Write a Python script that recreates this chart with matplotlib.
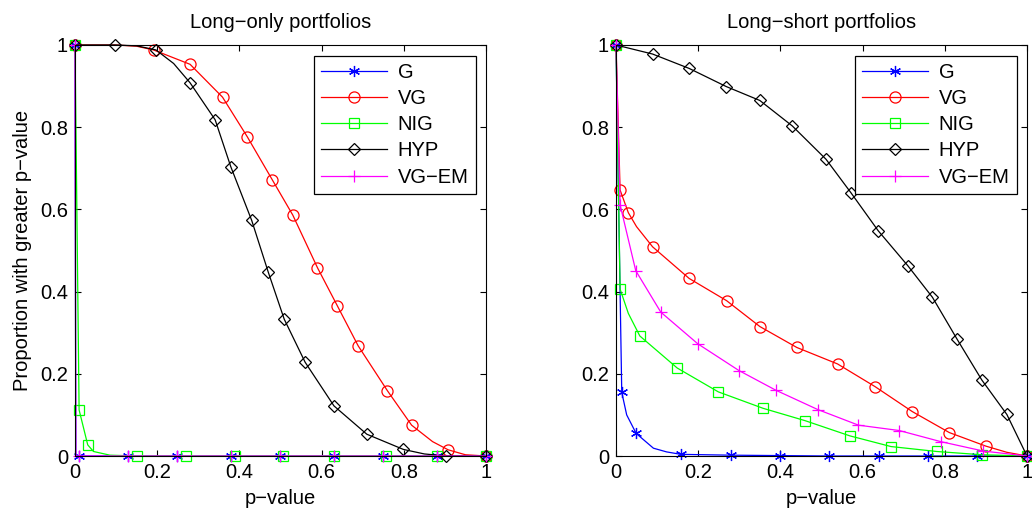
import matplotlib
matplotlib.use("Agg")
import matplotlib.pyplot as plt
from matplotlib.ticker import FixedLocator, FixedFormatter

plt.rcParams['font.family'] = ['Liberation Sans', 'DejaVu Sans']
FS = 14.5

series_names = ["G", "VG", "NIG", "HYP", "VG\u2212EM"]
colors = ["#0000ff", "#ff0000", "#00ff00", "#000000", "#ff00ff"]
markers = [(6, 2, 0), "o", "s", "D", "+"]
msizes = [8, 8, 6.5, 6.5, 9]

tick_vals = [0, 0.2, 0.4, 0.6, 0.8, 1]
tick_labels = ["0", "0.2", "0.4", "0.6", "0.8", "1"]

# ---- Long-only portfolios ----
lo_G_x = [0, 0.002, 0.01, 0.129, 0.248, 0.379, 0.499, 0.630, 0.750, 0.881, 1.0]
lo_G_y = [1, 0, 0, 0, 0, 0, 0, 0, 0, 0, 0]
lo_G_m = [0, 2, 3, 4, 5, 6, 7, 8, 9, 10]

lo_VG_x = [0, 0.1, 0.15, 0.191, 0.280, 0.359, 0.419, 0.480, 0.530, 0.590, 0.638,
           0.689, 0.760, 0.819, 0.87, 0.908, 0.95, 1.0]
lo_VG_y = [1, 1, 0.997, 0.988, 0.953, 0.873, 0.777, 0.672, 0.586, 0.458, 0.366,
           0.268, 0.159, 0.075, 0.035, 0.015, 0.003, 0]
lo_VG_m = [0, 3, 4, 5, 6, 7, 8, 9, 10, 11, 12, 13, 15, 17]

lo_NIG_x = [0, 0.01, 0.031, 0.045, 0.085, 0.15, 0.269, 0.389, 0.505, 0.630, 0.757, 0.880, 1.0]
lo_NIG_y = [1, 0.112, 0.027, 0.011, 0.002, 0, 0, 0, 0, 0, 0, 0, 0]
lo_NIG_m = [0, 1, 2, 5, 6, 7, 8, 9, 10, 11, 12]

lo_HYP_x = [0, 0.097, 0.15, 0.197, 0.24, 0.280, 0.341, 0.379, 0.430, 0.470, 0.509,
            0.560, 0.630, 0.710, 0.799, 0.85, 0.903, 1.0]
lo_HYP_y = [1, 1, 0.998, 0.988, 0.955, 0.908, 0.818, 0.704, 0.573, 0.448, 0.333,
            0.228, 0.122, 0.053, 0.016, 0.005, 0.0, 0.0]
lo_HYP_m = [0, 1, 3, 5, 6, 7, 8, 9, 10, 11, 12, 13, 14, 16, 17]

lo_EM_x = [0, 0.002, 0.01, 0.129, 0.248, 0.379, 0.499, 0.630, 0.750, 0.881, 1.0]
lo_EM_y = [1, 0, 0, 0, 0, 0, 0, 0, 0, 0, 0]
lo_EM_m = [0, 2, 3, 4, 5, 6, 7, 8, 9, 10]

# ---- Long-short portfolios ----
ls_G_x = [0, 0.014, 0.026, 0.049, 0.091, 0.123, 0.158, 0.280, 0.399, 0.519, 0.640, 0.758, 0.879, 1.0]
ls_G_y = [1, 0.155, 0.10, 0.055, 0.019, 0.010, 0.004, 0.002, 0.001, 0.0, 0, 0, 0, 0]
ls_G_m = [0, 1, 3, 6, 7, 8, 9, 10, 11, 12, 13]

ls_VG_x = [0, 0.01, 0.030, 0.050, 0.089, 0.178, 0.269, 0.350, 0.440, 0.539, 0.630,
           0.721, 0.811, 0.900, 0.951, 1.0]
ls_VG_y = [1, 0.647, 0.592, 0.558, 0.509, 0.432, 0.378, 0.315, 0.264, 0.224, 0.169,
           0.108, 0.057, 0.024, 0.009, 0]
ls_VG_m = [0, 1, 2, 4, 5, 6, 7, 8, 9, 10, 11, 12, 13, 15]

ls_NIG_x = [0, 0.01, 0.03, 0.058, 0.107, 0.149, 0.249, 0.358, 0.460, 0.569, 0.669, 0.780, 0.890, 1.0]
ls_NIG_y = [1, 0.406, 0.347, 0.292, 0.25, 0.214, 0.156, 0.116, 0.086, 0.049, 0.023, 0.011, 0.003, 0]
ls_NIG_m = [0, 1, 3, 5, 6, 7, 8, 9, 10, 11, 12, 13]

ls_HYP_x = [0, 0.089, 0.178, 0.268, 0.350, 0.429, 0.511, 0.572, 0.638, 0.710, 0.770,
            0.830, 0.890, 0.951, 1.0]
ls_HYP_y = [1, 0.978, 0.943, 0.899, 0.865, 0.803, 0.722, 0.640, 0.548, 0.463, 0.386,
            0.284, 0.185, 0.101, 0.0]
ls_HYP_m = list(range(15))

ls_EM_x = [0, 0.01, 0.048, 0.109, 0.199, 0.299, 0.389, 0.491, 0.590, 0.689, 0.790, 0.894, 1.0]
ls_EM_y = [1, 0.611, 0.451, 0.350, 0.273, 0.208, 0.160, 0.113, 0.075, 0.062, 0.035, 0.012, 0]
ls_EM_m = list(range(13))

panels = [
    ("Long\u2212only portfolios",
     [(lo_G_x, lo_G_y, lo_G_m), (lo_VG_x, lo_VG_y, lo_VG_m), (lo_NIG_x, lo_NIG_y, lo_NIG_m),
      (lo_HYP_x, lo_HYP_y, lo_HYP_m), (lo_EM_x, lo_EM_y, lo_EM_m)]),
    ("Long\u2212short portfolios",
     [(ls_G_x, ls_G_y, ls_G_m), (ls_VG_x, ls_VG_y, ls_VG_m), (ls_NIG_x, ls_NIG_y, ls_NIG_m),
      (ls_HYP_x, ls_HYP_y, ls_HYP_m), (ls_EM_x, ls_EM_y, ls_EM_m)]),
]

W, H = 1032, 514
fig = plt.figure(figsize=(W / 100, H / 100), dpi=100)
lefts = [75, 616]

for i, (title, data) in enumerate(panels):
    ax = fig.add_axes([lefts[i] / W, 58 / H, 411 / W, 411 / H])
    for (x, y, m), name, c, mk, ms in zip(data, series_names, colors, markers, msizes):
        ax.plot(x, y, color=c, lw=0.9, marker=mk, markevery=m, markersize=ms,
                markerfacecolor='none', markeredgecolor=c, markeredgewidth=0.9,
                label=name, clip_on=False)
    ax.set_xlim(0, 1)
    ax.set_ylim(0, 1)
    ax.xaxis.set_major_locator(FixedLocator(tick_vals))
    ax.xaxis.set_major_formatter(FixedFormatter(tick_labels))
    ax.yaxis.set_major_locator(FixedLocator(tick_vals))
    ax.yaxis.set_major_formatter(FixedFormatter(tick_labels))
    ax.tick_params(direction='in', length=4, width=0.8, top=True, right=True,
                   labelsize=FS, pad=5)
    for s in ax.spines.values():
        s.set_linewidth(0.8)
    ax.set_title(title, fontsize=FS, pad=12)
    ax.set_xlabel("p\u2212value", fontsize=FS, labelpad=5)
    if i == 0:
        ax.set_ylabel("Proportion with greater p\u2212value", fontsize=FS, labelpad=6)
    leg = ax.legend(loc='upper right', bbox_to_anchor=(0.975, 0.974), borderaxespad=0,
                    fontsize=FS, fancybox=False, framealpha=1, edgecolor='black',
                    handlelength=3.25, handletextpad=0.55, labelspacing=0.36,
                    borderpad=0.35)
    leg.get_frame().set_linewidth(0.9)

fig.savefig("out.png", dpi=100)
